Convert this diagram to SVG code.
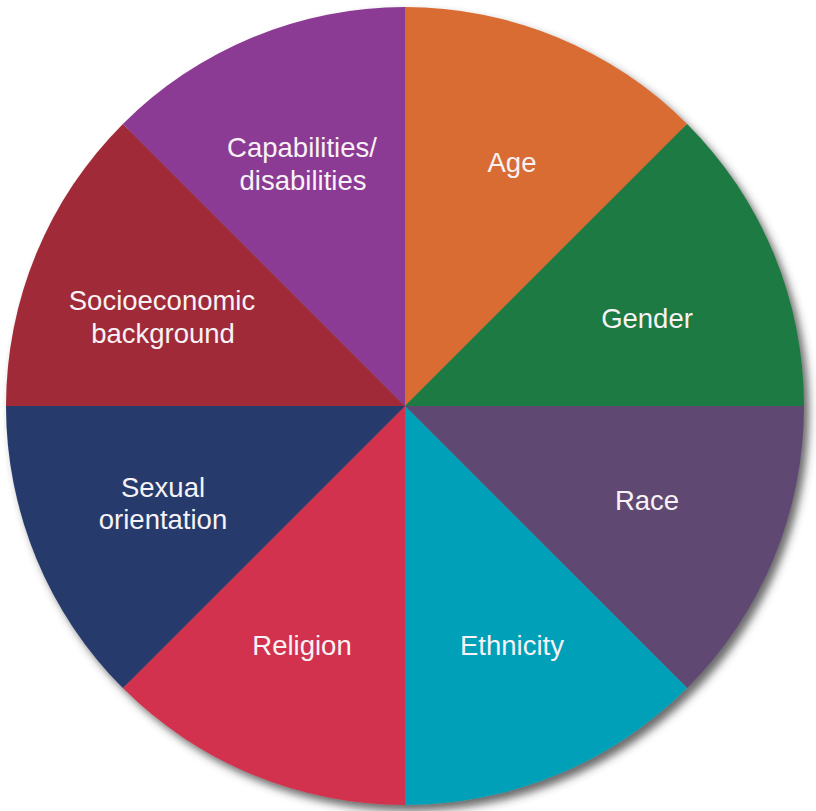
<svg xmlns="http://www.w3.org/2000/svg" width="816" height="811" viewBox="0 0 816 811">
  <defs>
    <filter id="shadow" x="-10%" y="-10%" width="125%" height="125%">
      <feDropShadow dx="5" dy="6" stdDeviation="4" flood-color="#3a3a3a" flood-opacity="0.75"/>
    </filter>
  </defs>
  <style>
    .lbl { font-family: "Liberation Sans", Arial, Helvetica, sans-serif; font-size: 27.5px; fill: #f7f2f5; text-anchor: middle; }
  </style>
  <rect width="816" height="811" fill="#ffffff"/>

  <!-- wheel: 8 equal 45-degree sectors around (405,406), r=399 -->
  <g id="wheel" filter="url(#shadow)">
    <g id="age">
      <path d="M405,406 L405,7 A399,399 0 0 1 687.1,123.9 Z" fill="#d96c33"/>
    </g>
    <g id="gender">
      <path d="M405,406 L687.1,123.9 A399,399 0 0 1 804,406 Z" fill="#1f7a43"/>
    </g>
    <g id="race">
      <path d="M405,406 L804,406 A399,399 0 0 1 687.1,688.1 Z" fill="#5f4a73"/>
    </g>
    <g id="ethnicity">
      <path d="M405,406 L687.1,688.1 A399,399 0 0 1 405,805 Z" fill="#05a0b8"/>
    </g>
    <g id="religion">
      <path d="M405,406 L405,805 A399,399 0 0 1 122.9,688.1 Z" fill="#d2334e"/>
    </g>
    <g id="sexual-orientation">
      <path d="M405,406 L122.9,688.1 A399,399 0 0 1 6,406 Z" fill="#273a6c"/>
    </g>
    <g id="socioeconomic">
      <path d="M405,406 L6,406 A399,399 0 0 1 122.9,123.9 Z" fill="#a02c37"/>
    </g>
    <g id="capabilities">
      <path d="M405,406 L122.9,123.9 A399,399 0 0 1 405,7 Z" fill="#8b3a93"/>
    </g>
  </g>

  <g id="labels">
    <text class="lbl" x="302" y="157">Capabilities/</text>
    <text class="lbl" x="303" y="190">disabilities</text>
    <text class="lbl" x="512" y="172">Age</text>
    <text class="lbl" x="162" y="310">Socioeconomic</text>
    <text class="lbl" x="163" y="343">background</text>
    <text class="lbl" x="647" y="328">Gender</text>
    <text class="lbl" x="163" y="497">Sexual</text>
    <text class="lbl" x="163" y="529">orientation</text>
    <text class="lbl" x="647" y="510">Race</text>
    <text class="lbl" x="302" y="655">Religion</text>
    <text class="lbl" x="512" y="655">Ethnicity</text>
  </g>
</svg>
